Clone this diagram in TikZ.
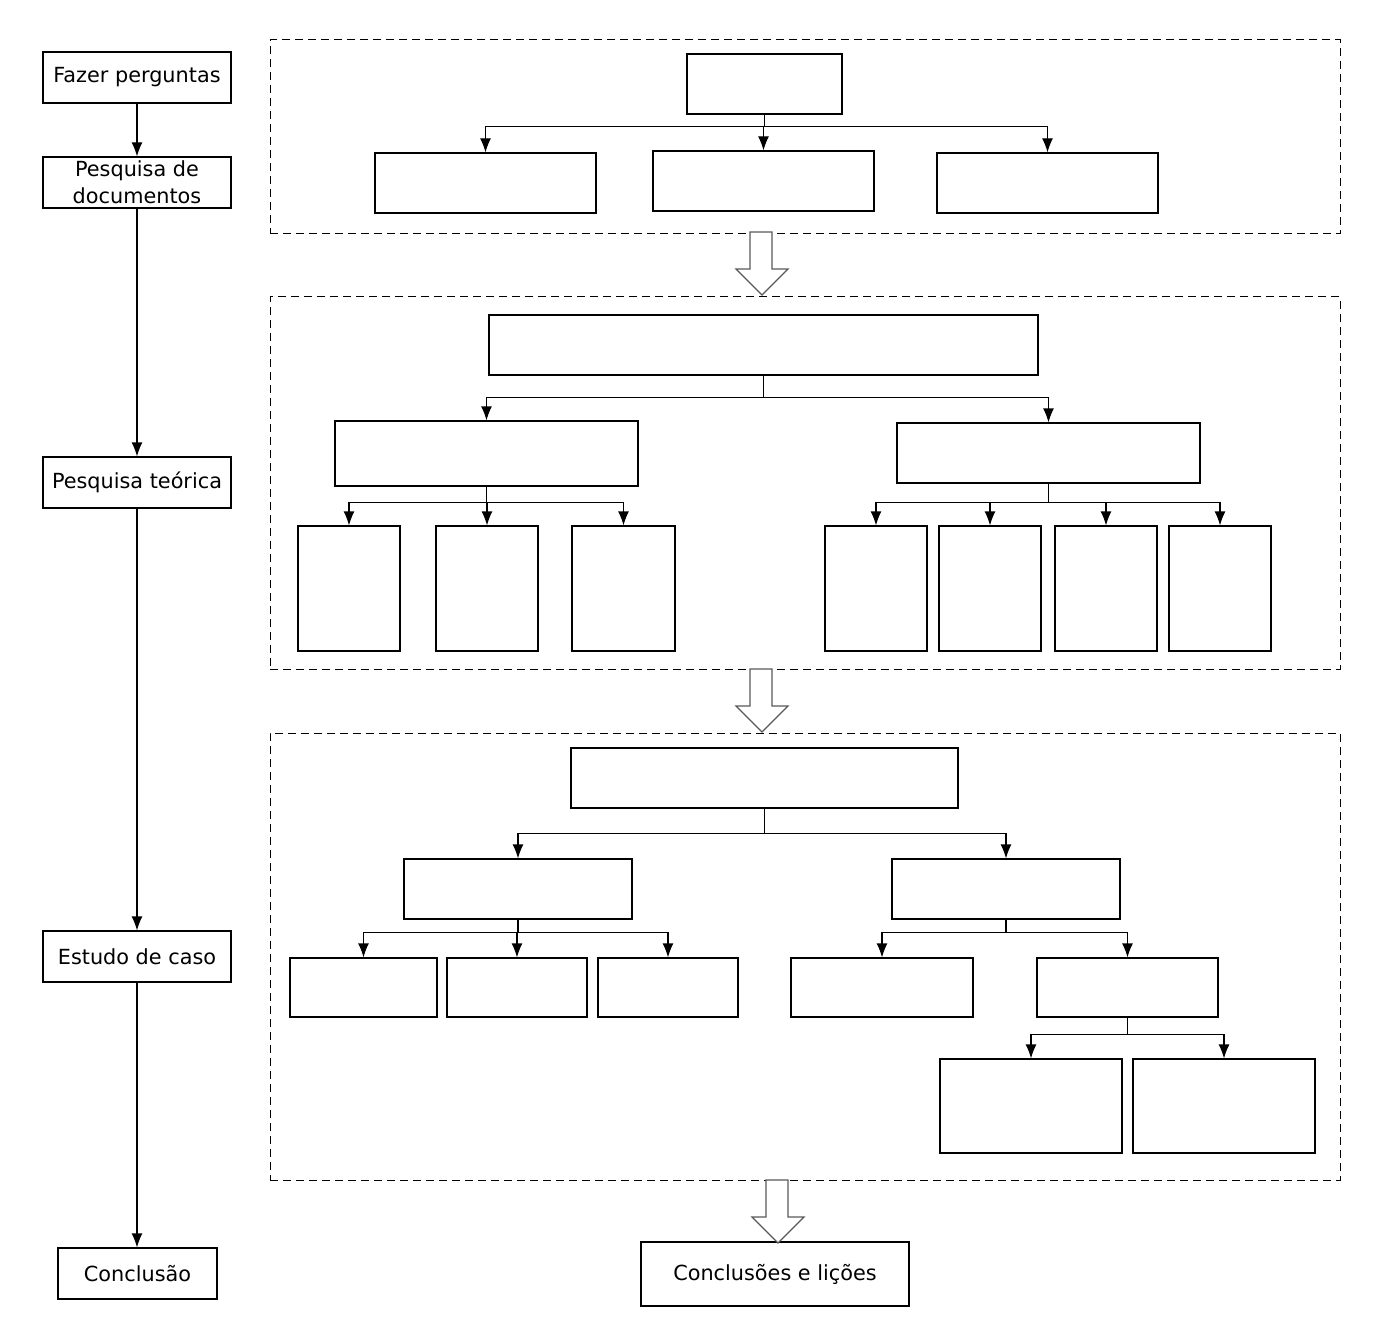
\documentclass[tikz,border=0pt]{standalone}
\usepackage{fontspec}
\setmainfont{DejaVu Sans}
\usetikzlibrary{arrows.meta, fit}

\begin{document}
\begin{tikzpicture}[x=0.5pt, y=-0.5pt, line width=0.6pt,
  every node/.style={font=\fontsize{10.4}{13.5}\selectfont},
  box/.style={draw, inner sep=0pt, align=center},
  group/.style={draw, dash pattern=on 4pt off 2.5pt, line width=0.5pt, inner sep=0pt},
  arr/.style={-{Latex[length=7pt, width=5.5pt]}},
  bigarrow/.style={draw=black!65, fill=white, line width=0.6pt}]
  \useasboundingbox (0,0) rectangle (1375,1342);
  % left column
  \node[box, minimum width=94pt, minimum height=25.5pt] (ask) at (137,77.5) {Fazer perguntas};
  \node[box, minimum width=94pt, minimum height=25.5pt] (docs) at (137,182.5) {Pesquisa de\\documentos};
  \node[box, minimum width=94pt, minimum height=25.5pt] (theory) at (137,482.5) {Pesquisa teórica};
  \node[box, minimum width=94pt, minimum height=25.5pt] (case) at (137,956.5) {Estudo de caso};
  \node[box, minimum width=79.5pt, minimum height=25.5pt] (concl) at (137.5,1273.5) {Conclusão};
  \draw[arr] (ask.south) -- (docs.north);
  \draw[arr] (docs.south) -- (theory.north);
  \draw[arr] (theory.south) -- (case.north);
  \draw[arr] (case.south) -- (case.south |- concl.north);
  % groups
  \node[group, fit={(270,40) (1340,234)}] (g1) {};
  \node[group, fit={(270,297) (1340,669)}] (g2) {};
  \node[group, fit={(270,733) (1340,1180)}] (g3) {};
  % group 1
  \node[box, fit={(687,54) (842,114)}] (a0) {};
  \node[box, fit={(375,153) (596,213)}] (a1) {};
  \node[box, fit={(653,151) (874,211)}] (a2) {};
  \node[box, fit={(937,153) (1158,213)}] (a3) {};
  \draw[arr] (a0.south) -- ++(0,12) -| (a1.north);
  \draw[arr] (a0.south) -- ++(0,12) -| (a2.north);
  \draw[arr] (a0.south) -- ++(0,12) -| (a3.north);
  % group 2
  \node[box, fit={(489,315) (1038,375)}] (b0) {};
  \node[box, fit={(335,421) (638,486)}] (b1) {};
  \node[box, fit={(897,423) (1200,483)}] (b2) {};
  \draw[arr] (b0.south) -- ++(0,22) -| (b1.north);
  \draw[arr] (b0.south) -- ++(0,22) -| (b2.north);
  \node[box, fit={(298,526) (400,651)}] (b11) {};
  \node[box, fit={(436,526) (538,651)}] (b12) {};
  \node[box, fit={(572,526) (675,651)}] (b13) {};
  \draw[arr] (b1.south) -- ++(0,16) -| (b11.north);
  \draw[arr] (b1.south) -- ++(0,16) -| (b12.north);
  \draw[arr] (b1.south) -- ++(0,16) -| (b13.north);
  \node[box, fit={(825,526) (927,651)}] (b21) {};
  \node[box, fit={(939,526) (1041,651)}] (b22) {};
  \node[box, fit={(1055,526) (1157,651)}] (b23) {};
  \node[box, fit={(1169,526) (1271,651)}] (b24) {};
  \draw[arr] (b2.south) -- ++(0,19) -| (b21.north);
  \draw[arr] (b2.south) -- ++(0,19) -| (b22.north);
  \draw[arr] (b2.south) -- ++(0,19) -| (b23.north);
  \draw[arr] (b2.south) -- ++(0,19) -| (b24.north);
  % group 3
  \node[box, fit={(571,748) (958,808)}] (c0) {};
  \node[box, fit={(404,859) (632,919)}] (c1) {};
  \node[box, fit={(892,859) (1120,919)}] (c2) {};
  \draw[arr] (c0.south) -- ++(0,25) -| (c1.north);
  \draw[arr] (c0.south) -- ++(0,25) -| (c2.north);
  \node[box, fit={(290,958) (437,1017)}] (c11) {};
  \node[box, fit={(447,958) (587,1017)}] (c12) {};
  \node[box, fit={(598,958) (738,1017)}] (c13) {};
  \draw[arr] (c1.south) -- ++(0,13) -| (c11.north);
  \draw[arr] (c1.south) -- ++(0,13) -| (c12.north);
  \draw[arr] (c1.south) -- ++(0,13) -| (c13.north);
  \node[box, fit={(791,958) (973,1017)}] (c21) {};
  \node[box, fit={(1037,958) (1218,1017)}] (c22) {};
  \draw[arr] (c2.south) -- ++(0,13) -| (c21.north);
  \draw[arr] (c2.south) -- ++(0,13) -| (c22.north);
  \node[box, fit={(940,1059) (1122,1153)}] (c221) {};
  \node[box, fit={(1133,1059) (1315,1153)}] (c222) {};
  \draw[arr] (c22.south) -- ++(0,17) -| (c221.north);
  \draw[arr] (c22.south) -- ++(0,17) -| (c222.north);
  \node[box, minimum width=134pt, minimum height=32pt] (lessons) at (775,1274) {Conclusões e lições};
  % hollow arrows between groups
  \draw[bigarrow] (750,232) -- (772,232) -- (772,269) -- (788,269) -- (762,295) -- (736,269) -- (750,269) -- cycle;
  \draw[bigarrow] (750,669) -- (772,669) -- (772,706) -- (788,706) -- (762,732) -- (736,706) -- (750,706) -- cycle;
  \draw[bigarrow] (766,1180) -- (788,1180) -- (788,1217) -- (804,1217) -- (778,1243) -- (752,1217) -- (766,1217) -- cycle;
\end{tikzpicture}
\end{document}
